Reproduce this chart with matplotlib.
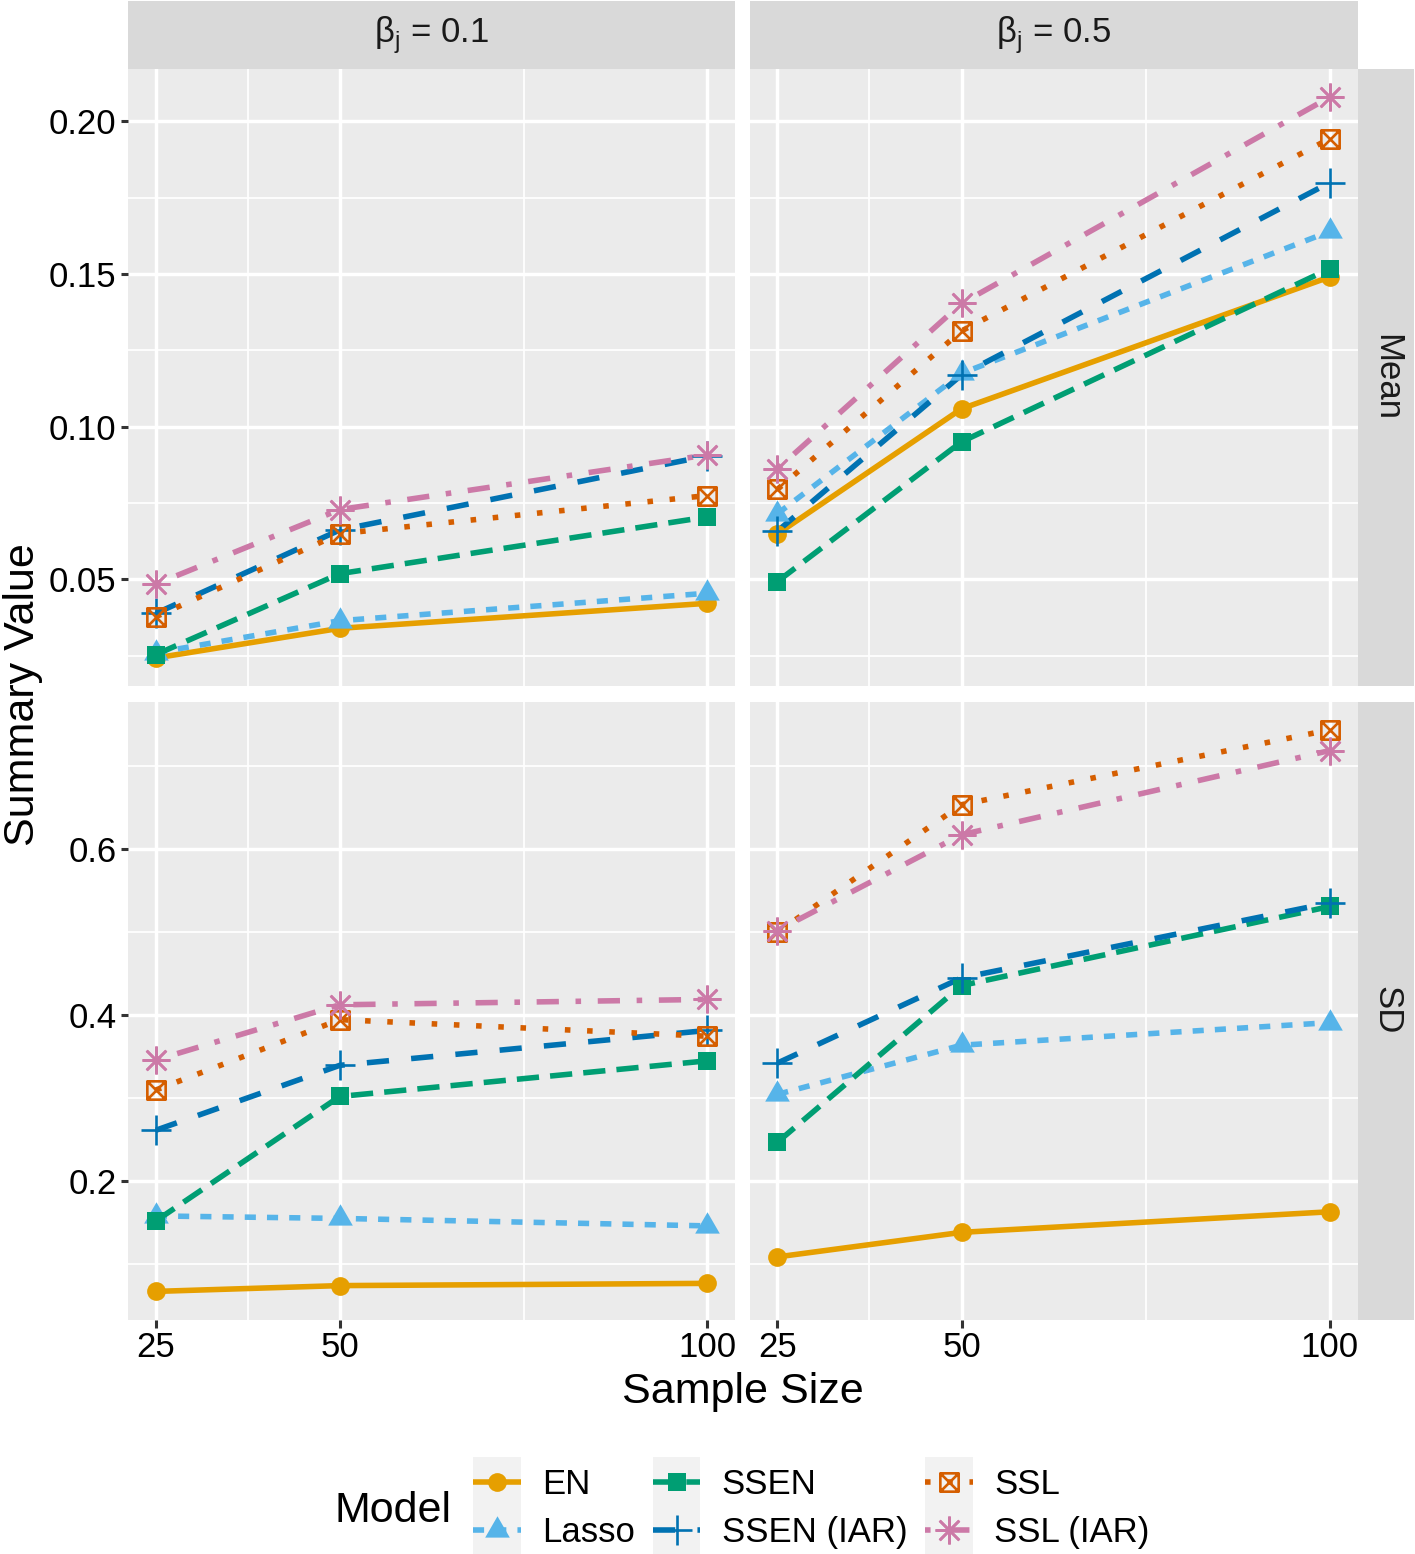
import numpy as np
import matplotlib
matplotlib.use("Agg")
import matplotlib.pyplot as plt
from matplotlib.path import Path
from matplotlib.lines import Line2D
from matplotlib.patches import Rectangle
from matplotlib.legend_handler import HandlerLine2D
from matplotlib.ticker import FixedLocator, NullFormatter

plt.rcParams['font.family'] = ['Liberation Sans', 'DejaVu Sans']
plt.rcParams['mathtext.fontset'] = 'custom'
plt.rcParams['mathtext.rm'] = 'Liberation Sans'

# ---------------- data ----------------
sample_sizes = [25, 50, 100]
x_tick_labels = ["25", "50", "100"]
models = ["EN", "Lasso", "SSEN", "SSEN (IAR)", "SSL", "SSL (IAR)"]
beta_values = ["0.1", "0.5"]
summary_stats = ["Mean", "SD"]

# rows: EN, Lasso, SSEN, SSEN (IAR), SSL, SSL (IAR); columns: n = 25, 50, 100
mean_beta_01 = [
    [0.0243, 0.0340, 0.0422],
    [0.0260, 0.0365, 0.0455],
    [0.0254, 0.0519, 0.0705],
    [0.0389, 0.0662, 0.0905],
    [0.0378, 0.0650, 0.0775],
    [0.0485, 0.0729, 0.0908],
]
mean_beta_05 = [
    [0.0649, 0.1059, 0.1491],
    [0.0715, 0.1175, 0.1640],
    [0.0493, 0.0951, 0.1518],
    [0.0658, 0.1170, 0.1800],
    [0.0795, 0.1314, 0.1944],
    [0.0862, 0.1404, 0.2080],
]
sd_beta_01 = [
    [0.067, 0.074, 0.0767],
    [0.158, 0.155, 0.146],
    [0.152, 0.302, 0.345],
    [0.2613, 0.3395, 0.3816],
    [0.3098, 0.3946, 0.3746],
    [0.346, 0.4125, 0.419],
]
sd_beta_05 = [
    [0.1086, 0.1382, 0.163],
    [0.3045, 0.3638, 0.391],
    [0.2467, 0.4357, 0.531],
    [0.3422, 0.4449, 0.5354],
    [0.500, 0.6537, 0.744],
    [0.502, 0.6175, 0.719],
]
mean_ticks = [0.05, 0.10, 0.15, 0.20]
mean_tick_labels = ["0.05", "0.10", "0.15", "0.20"]
sd_ticks = [0.2, 0.4, 0.6]
sd_tick_labels = ["0.2", "0.4", "0.6"]

# ---------------- styles ----------------
colors = ["#E69F00", "#56B4E9", "#009E73", "#0072B2", "#D55E00", "#CC79A7"]
dash_patterns = [None, (2, 2), (4, 2), (4, 4), (1, 3), (1, 3, 4, 3)]
LW = 4.0

tri_path = Path([(0, 1), (-0.8660254, -0.5), (0.8660254, -0.5), (0, 1)],
                [Path.MOVETO, Path.LINETO, Path.LINETO, Path.CLOSEPOLY])
boxx_path = Path([(-1, -1), (1, -1), (1, 1), (-1, 1), (-1, -1),
                  (-1, -1), (1, 1), (-1, 1), (1, -1)],
                 [Path.MOVETO, Path.LINETO, Path.LINETO, Path.LINETO, Path.CLOSEPOLY,
                  Path.MOVETO, Path.LINETO, Path.MOVETO, Path.LINETO])


def marker_kw(i):
    c = colors[i]
    specs = [
        dict(marker='o', ms=13.5, mfc=c, mec=c, mew=0),
        dict(marker=tri_path, ms=20.5, mfc=c, mec=c, mew=0),
        dict(marker='s', ms=13.3, mfc=c, mec=c, mew=0),
        dict(marker='+', ms=21, mfc=c, mec=c, mew=1.9),
        dict(marker=boxx_path, ms=13.2, mfc='none', mec=c, mew=1.9),
        dict(marker=(8, 2, 0), ms=20, mfc=c, mec=c, mew=1.9),
    ]
    return specs[i]


def line_kw(i):
    kw = dict(color=colors[i], lw=LW, solid_capstyle='butt', dash_capstyle='butt',
              solid_joinstyle='round', dash_joinstyle='round')
    if dash_patterns[i] is not None:
        kw['dashes'] = dash_patterns[i]
    return kw


# ---------------- layout ----------------
W, H = 1415, 1554
fig = plt.figure(figsize=(W / 100, H / 100), dpi=100)
fig.patch.set_facecolor('white')


def fx(px):
    return px / W


def fy(py):
    return 1 - py / H


col_x = [(128.3, 735.0), (749.7, 1357.5)]
row_y = [(69.0, 686.0), (701.7, 1319.5)]

panel_values = {(0, 0): mean_beta_01, (0, 1): mean_beta_05,
                (1, 0): sd_beta_01, (1, 1): sd_beta_05}
row_ticks = [(mean_ticks, mean_tick_labels), (sd_ticks, sd_tick_labels)]

xspan = sample_sizes[-1] - sample_sizes[0]
xlo, xhi = sample_sizes[0] - 0.05 * xspan, sample_sizes[-1] + 0.05 * xspan
x_minor = [(a + b) / 2 for a, b in zip(sample_sizes[:-1], sample_sizes[1:])]

for r in range(2):
    allv = np.array(panel_values[(r, 0)] + panel_values[(r, 1)])
    vmin, vmax = allv.min(), allv.max()
    pad = 0.05 * (vmax - vmin)
    ylo, yhi = vmin - pad, vmax + pad
    ticks, tlabels = row_ticks[r]
    step = ticks[1] - ticks[0]
    yminor = [v for v in np.arange(ticks[0] - step / 2, ticks[-1] + step, step) if ylo < v < yhi]
    for c in range(2):
        x0, x1 = col_x[c]
        y0, y1 = row_y[r]
        ax = fig.add_axes([fx(x0), fy(y1), (x1 - x0) / W, (y1 - y0) / H])
        ax.set_facecolor('#EBEBEB')
        for s in ax.spines.values():
            s.set_visible(False)
        ax.set_xlim(xlo, xhi)
        ax.set_ylim(ylo, yhi)
        ax.set_xticks(sample_sizes, labels=x_tick_labels)
        ax.xaxis.set_minor_locator(FixedLocator(x_minor))
        ax.xaxis.set_minor_formatter(NullFormatter())
        ax.set_yticks(ticks, labels=tlabels)
        ax.yaxis.set_minor_locator(FixedLocator(yminor))
        ax.grid(which='major', color='white', lw=2.5)
        ax.grid(which='minor', color='white', lw=1.25)
        ax.set_axisbelow(True)
        ax.tick_params(which='minor', length=0)
        ax.tick_params(which='major', length=5.4, width=2.2, color='#333333',
                       labelsize=25, labelcolor='black', pad=3)
        if r == 0:
            ax.tick_params(axis='x', which='both', length=0, labelbottom=False)
        if c == 1:
            ax.tick_params(axis='y', which='both', length=0, labelleft=False)
        vals = panel_values[(r, c)]
        for i in range(len(models)):
            ax.plot(sample_sizes, vals[i], zorder=2, **line_kw(i))
        for i in range(len(models)):
            ax.plot(sample_sizes, vals[i], linestyle='none', zorder=3, clip_on=False,
                    **marker_kw(i))

# strips
for c in range(2):
    x0, x1 = col_x[c]
    sax = fig.add_axes([fx(x0), fy(69), (x1 - x0) / W, 68 / H])
    sax.set_facecolor('#D9D9D9')
    sax.set_xticks([]); sax.set_yticks([])
    for s in sax.spines.values():
        s.set_visible(False)
    sax.text(0.5, 0.5, 'β$_\\mathregular{j}$ = ' + beta_values[c], transform=sax.transAxes,
             ha='center', va='center', fontsize=25, color='#1A1A1A')
for r in range(2):
    y0, y1 = row_y[r]
    sax = fig.add_axes([fx(1358.3), fy(y1), (1414.5 - 1358.3) / W, (y1 - y0) / H])
    sax.set_facecolor('#D9D9D9')
    sax.set_xticks([]); sax.set_yticks([])
    for s in sax.spines.values():
        s.set_visible(False)
    sax.text(0.5, 0.5, summary_stats[r], transform=sax.transAxes, rotation=-90,
             ha='center', va='center', fontsize=25, color='#1A1A1A')

# axis titles
fig.text(fx(34), fy(694.3), 'Summary Value', rotation=90, rotation_mode='anchor',
         ha='center', va='baseline', fontsize=31, color='black')
fig.text(fx(742.5), fy(1403), 'Sample Size', ha='center', va='baseline', fontsize=31,
         color='black')
fig.text(fx(334), fy(1521.7), 'Model', ha='left', va='baseline', fontsize=31, color='black')

# legend
KEY_H = 47.5 * 0.72


class KeyHandler(HandlerLine2D):
    def create_artists(self, legend, orig_handle, xdescent, ydescent, width, height,
                       fontsize, trans):
        yc = (height - ydescent) / 2
        bg = Rectangle((-xdescent, yc - KEY_H / 2 - 0.5), width, KEY_H + 1.0,
                       facecolor='#F2F2F2', edgecolor='none', transform=trans)
        arts = super().create_artists(legend, orig_handle, xdescent, ydescent, width,
                                      height, fontsize, trans)
        return [bg] + list(arts)


handles = []
for i in range(len(models)):
    kw = line_kw(i)
    kw.update(marker_kw(i))
    handles.append(Line2D([], [], **kw))

leg = fig.legend(handles, models, handler_map={Line2D: KeyHandler(numpoints=1)},
                 loc='center left', bbox_to_anchor=(fx(473.3), fy(1508.5)),
                 ncol=3, frameon=False, fontsize=25, borderpad=0, borderaxespad=0,
                 handlelength=1.366, handleheight=0.7, handletextpad=0.62,
                 labelspacing=0.43, columnspacing=0.51, numpoints=1)

fig.savefig('out.png', dpi=100)
